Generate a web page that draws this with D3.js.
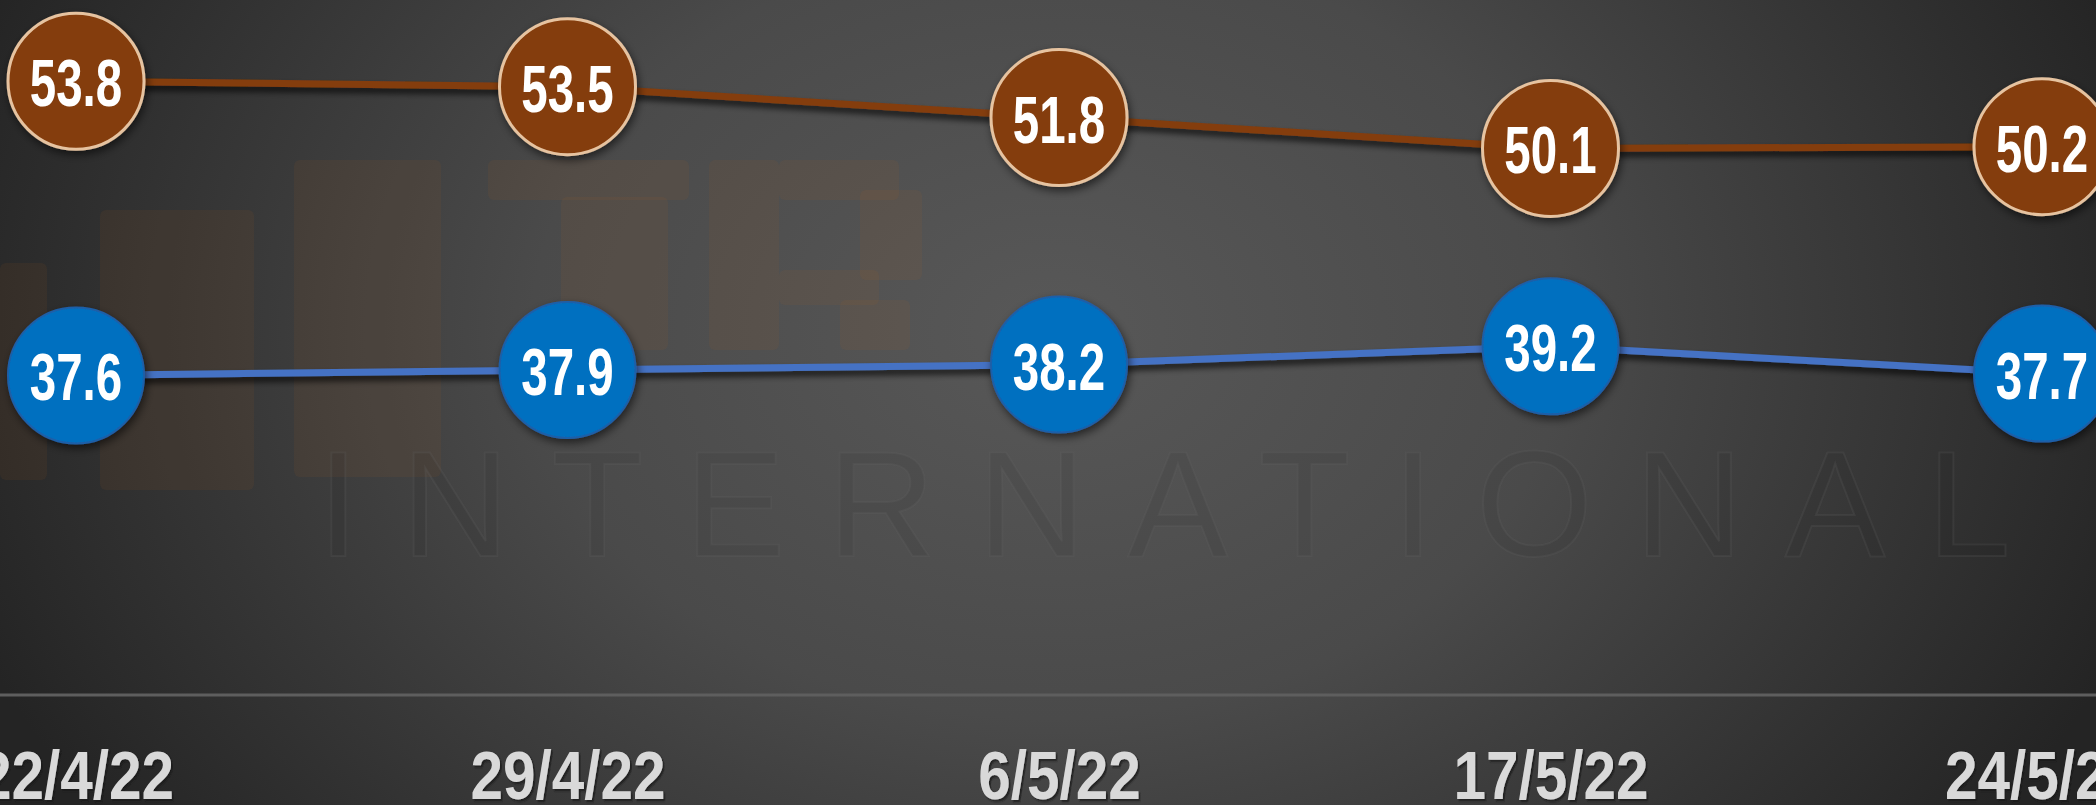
<!DOCTYPE html>
<html>
<head>
<meta charset="utf-8">
<script src="https://cdn.jsdelivr.net/npm/d3@7"></script>
<style>
  html, body { margin: 0; padding: 0; background: #3a3a3a; overflow: hidden; }
  svg { display: block; }
</style>
</head>
<body>
<svg id="chart" width="2096" height="805"></svg>
<script>
// ---- data ----
const categories = ["22/4/22", "29/4/22", "6/5/22", "17/5/22", "24/5/22"];
const seriesOrange = [53.8, 53.5, 51.8, 50.1, 50.2];
const seriesBlue = [37.6, 37.9, 38.2, 39.2, 37.7];
const yDomain = [20, 58];

// ---- setup ----
const W = 2096, H = 805;
const svg = d3.select("#chart");
const defs = svg.append("defs");

const bg = defs.append("radialGradient").attr("id", "bg")
  .attr("gradientUnits", "userSpaceOnUse")
  .attr("cx", 1050).attr("cy", 330).attr("r", 1150)
  .attr("gradientTransform", "translate(1050,330) scale(1,0.75) translate(-1050,-330)");
bg.append("stop").attr("offset", "0%").attr("stop-color", "#585858");
bg.append("stop").attr("offset", "45%").attr("stop-color", "#4a4a4a");
bg.append("stop").attr("offset", "100%").attr("stop-color", "#242424");

const sh = defs.append("filter").attr("id", "lineShadow")
  .attr("x", "-5%").attr("y", "-50%").attr("width", "110%").attr("height", "200%");
sh.append("feDropShadow").attr("dx", 2).attr("dy", 5).attr("stdDeviation", 3)
  .attr("flood-color", "#000").attr("flood-opacity", 0.7);

const csh = defs.append("filter").attr("id", "circleShadow")
  .attr("x", "-30%").attr("y", "-30%").attr("width", "160%").attr("height", "160%");
csh.append("feDropShadow").attr("dx", 2).attr("dy", 4).attr("stdDeviation", 4)
  .attr("flood-color", "#000").attr("flood-opacity", 0.55);

const tsh = defs.append("filter").attr("id", "textShadow")
  .attr("x", "-10%").attr("y", "-20%").attr("width", "120%").attr("height", "140%");
tsh.append("feDropShadow").attr("dx", 2).attr("dy", 2).attr("stdDeviation", 0.8)
  .attr("flood-color", "#1a1a1a").attr("flood-opacity", 0.8);

svg.append("rect").attr("width", W).attr("height", H).attr("fill", "url(#bg)");

// ---- faint logo watermark (shapes) ----
const logoBlocks = [
  [0, 263, 47, 217], [100, 210, 154, 280], [294, 160, 147, 317],
  [488, 160, 201, 40], [561, 197, 107, 153], [709, 160, 70, 190],
  [779, 160, 120, 40], [860, 190, 62, 90], [779, 270, 100, 35], [840, 300, 70, 50]
];
const wm = svg.append("g").attr("pointer-events", "none");
wm.selectAll("rect.logo").data(logoBlocks).join("rect")
  .attr("class", "logo")
  .attr("x", d => d[0]).attr("y", d => d[1])
  .attr("width", d => d[2]).attr("height", d => d[3])
  .attr("rx", 6)
  .attr("fill", "#c0621a").attr("fill-opacity", 0.08);
wm.append("text")
  .attr("x", 1185).attr("y", 556)
  .attr("text-anchor", "middle")
  .attr("font-family", "Liberation Sans, Arial, sans-serif")
  .attr("font-size", 150).attr("letter-spacing", 42)
  .attr("fill", "#000").attr("fill-opacity", 0.05)
  .attr("stroke", "#6a6a6a").attr("stroke-opacity", 0.18).attr("stroke-width", 2)
  .text("INTERNATIONAL");

// ---- scales ----
const x = d3.scalePoint().domain(categories).range([76, 2042]);
const y = d3.scaleLinear().domain(yDomain).range([695, 5]);

// baseline gridline
svg.append("line")
  .attr("x1", 0).attr("x2", W)
  .attr("y1", y(yDomain[0])).attr("y2", y(yDomain[0]))
  .attr("stroke", "#5e5e5e").attr("stroke-width", 3);

// x axis labels via d3 axis
const xAxis = svg.append("g")
  .attr("transform", `translate(0,${y(yDomain[0])})`)
  .call(d3.axisBottom(x).tickSize(0).tickPadding(0));
xAxis.select(".domain").remove();
xAxis.selectAll(".tick text")
  .attr("y", 0).attr("dy", 0)
  .attr("fill", "#d9d9d9")
  .attr("font-family", "Liberation Sans, Arial, sans-serif")
  .attr("font-weight", 700)
  .attr("font-size", 68)
  .attr("text-anchor", "middle")
  .attr("filter", "url(#textShadow)")
  .attr("transform", "translate(0,104) scale(0.86,1)");

// ---- series ----
const series = [
  { values: seriesOrange, line: "#843C0C", fill: "#843C0C", stroke: "#e6c3a0", sw: 3 },
  { values: seriesBlue, line: "#4472C4", fill: "#0070C0", stroke: "#1f5fa8", sw: 2 }
];

const lineGen = d3.line().x((d, i) => x(categories[i])).y(d => y(d));

series.forEach(s => {
  svg.append("path")
    .datum(s.values)
    .attr("d", lineGen)
    .attr("fill", "none")
    .attr("stroke", s.line)
    .attr("stroke-width", 7)
    .attr("filter", "url(#lineShadow)");
});

series.forEach(s => {
  const g = svg.append("g");
  const pts = g.selectAll("g.pt").data(s.values).join("g")
    .attr("class", "pt")
    .attr("transform", (d, i) => `translate(${x(categories[i])},${y(d)})`);
  pts.append("circle")
    .attr("r", 68)
    .attr("fill", s.fill)
    .attr("stroke", s.stroke)
    .attr("stroke-width", s.sw)
    .attr("filter", "url(#circleShadow)");
  pts.append("text")
    .attr("transform", "translate(0,25) scale(0.72,1)")
    .attr("text-anchor", "middle")
    .attr("fill", "#ffffff")
    .attr("font-family", "Liberation Sans, Arial, sans-serif")
    .attr("font-weight", 700)
    .attr("font-size", 66)
    .text(d => d.toFixed(1));
});
</script>
</body>
</html>
